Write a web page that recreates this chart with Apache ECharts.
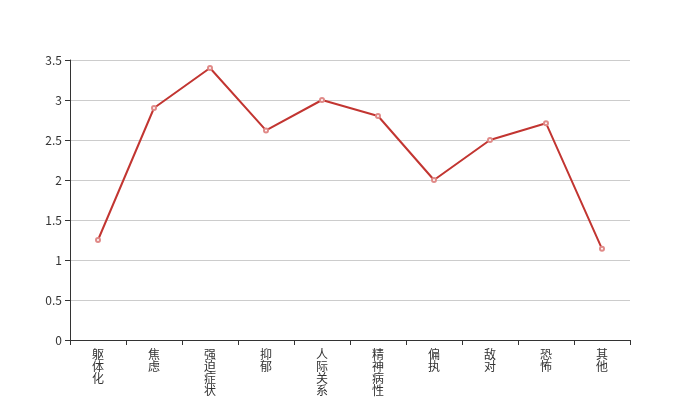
<!DOCTYPE html>
<html>
<head>
<meta charset="utf-8">
<script src="https://cdn.jsdelivr.net/npm/echarts@6/dist/echarts.min.js"></script>
<style>html,body{margin:0;padding:0;background:#fff}#c{width:700px;height:400px}</style>
</head>
<body>
<div id="c"></div>
<script>
var categories = ['躯体化','焦虑','强迫症状','抑郁','人际关系','精神病性','偏执','敌对','恐怖','其他'];
var values = [1.25, 2.9, 3.4, 2.62, 3.0, 2.8, 2.0, 2.5, 2.71, 1.14];
var yTicks = {min: 0, max: 3.5, interval: 0.5};

var chart = echarts.init(document.getElementById('c'));
chart.setOption({
  animation: false,
  textStyle: {fontFamily: '"Noto Sans CJK SC", sans-serif'},
  grid: {left: 70, right: 70, top: 60, bottom: 60},
  xAxis: {
    type: 'category',
    data: categories,
    boundaryGap: true,
    axisLine: {lineStyle: {color: '#333'}},
    axisTick: {show: true, alignWithLabel: false, interval: 0, length: 5, lineStyle: {color: '#333'}},
    axisLabel: {
      interval: 0,
      color: '#333',
      fontSize: 12,
      lineHeight: 12,
      margin: 8,
      formatter: function (v) { return v.split('').join('\n'); }
    }
  },
  yAxis: {
    type: 'value',
    min: yTicks.min, max: yTicks.max, interval: yTicks.interval,
    axisLine: {show: true, lineStyle: {color: '#333'}},
    axisTick: {show: true, length: 5, lineStyle: {color: '#333'}},
    axisLabel: {color: '#333', fontSize: 12},
    splitLine: {lineStyle: {color: '#ccc'}}
  },
  series: [{
    type: 'line',
    data: values,
    symbol: 'emptyCircle',
    symbolSize: 4,
    lineStyle: {color: '#c23531', width: 2},
    itemStyle: {color: '#e08a88', borderWidth: 1}
  }]
});
</script>
</body>
</html>
